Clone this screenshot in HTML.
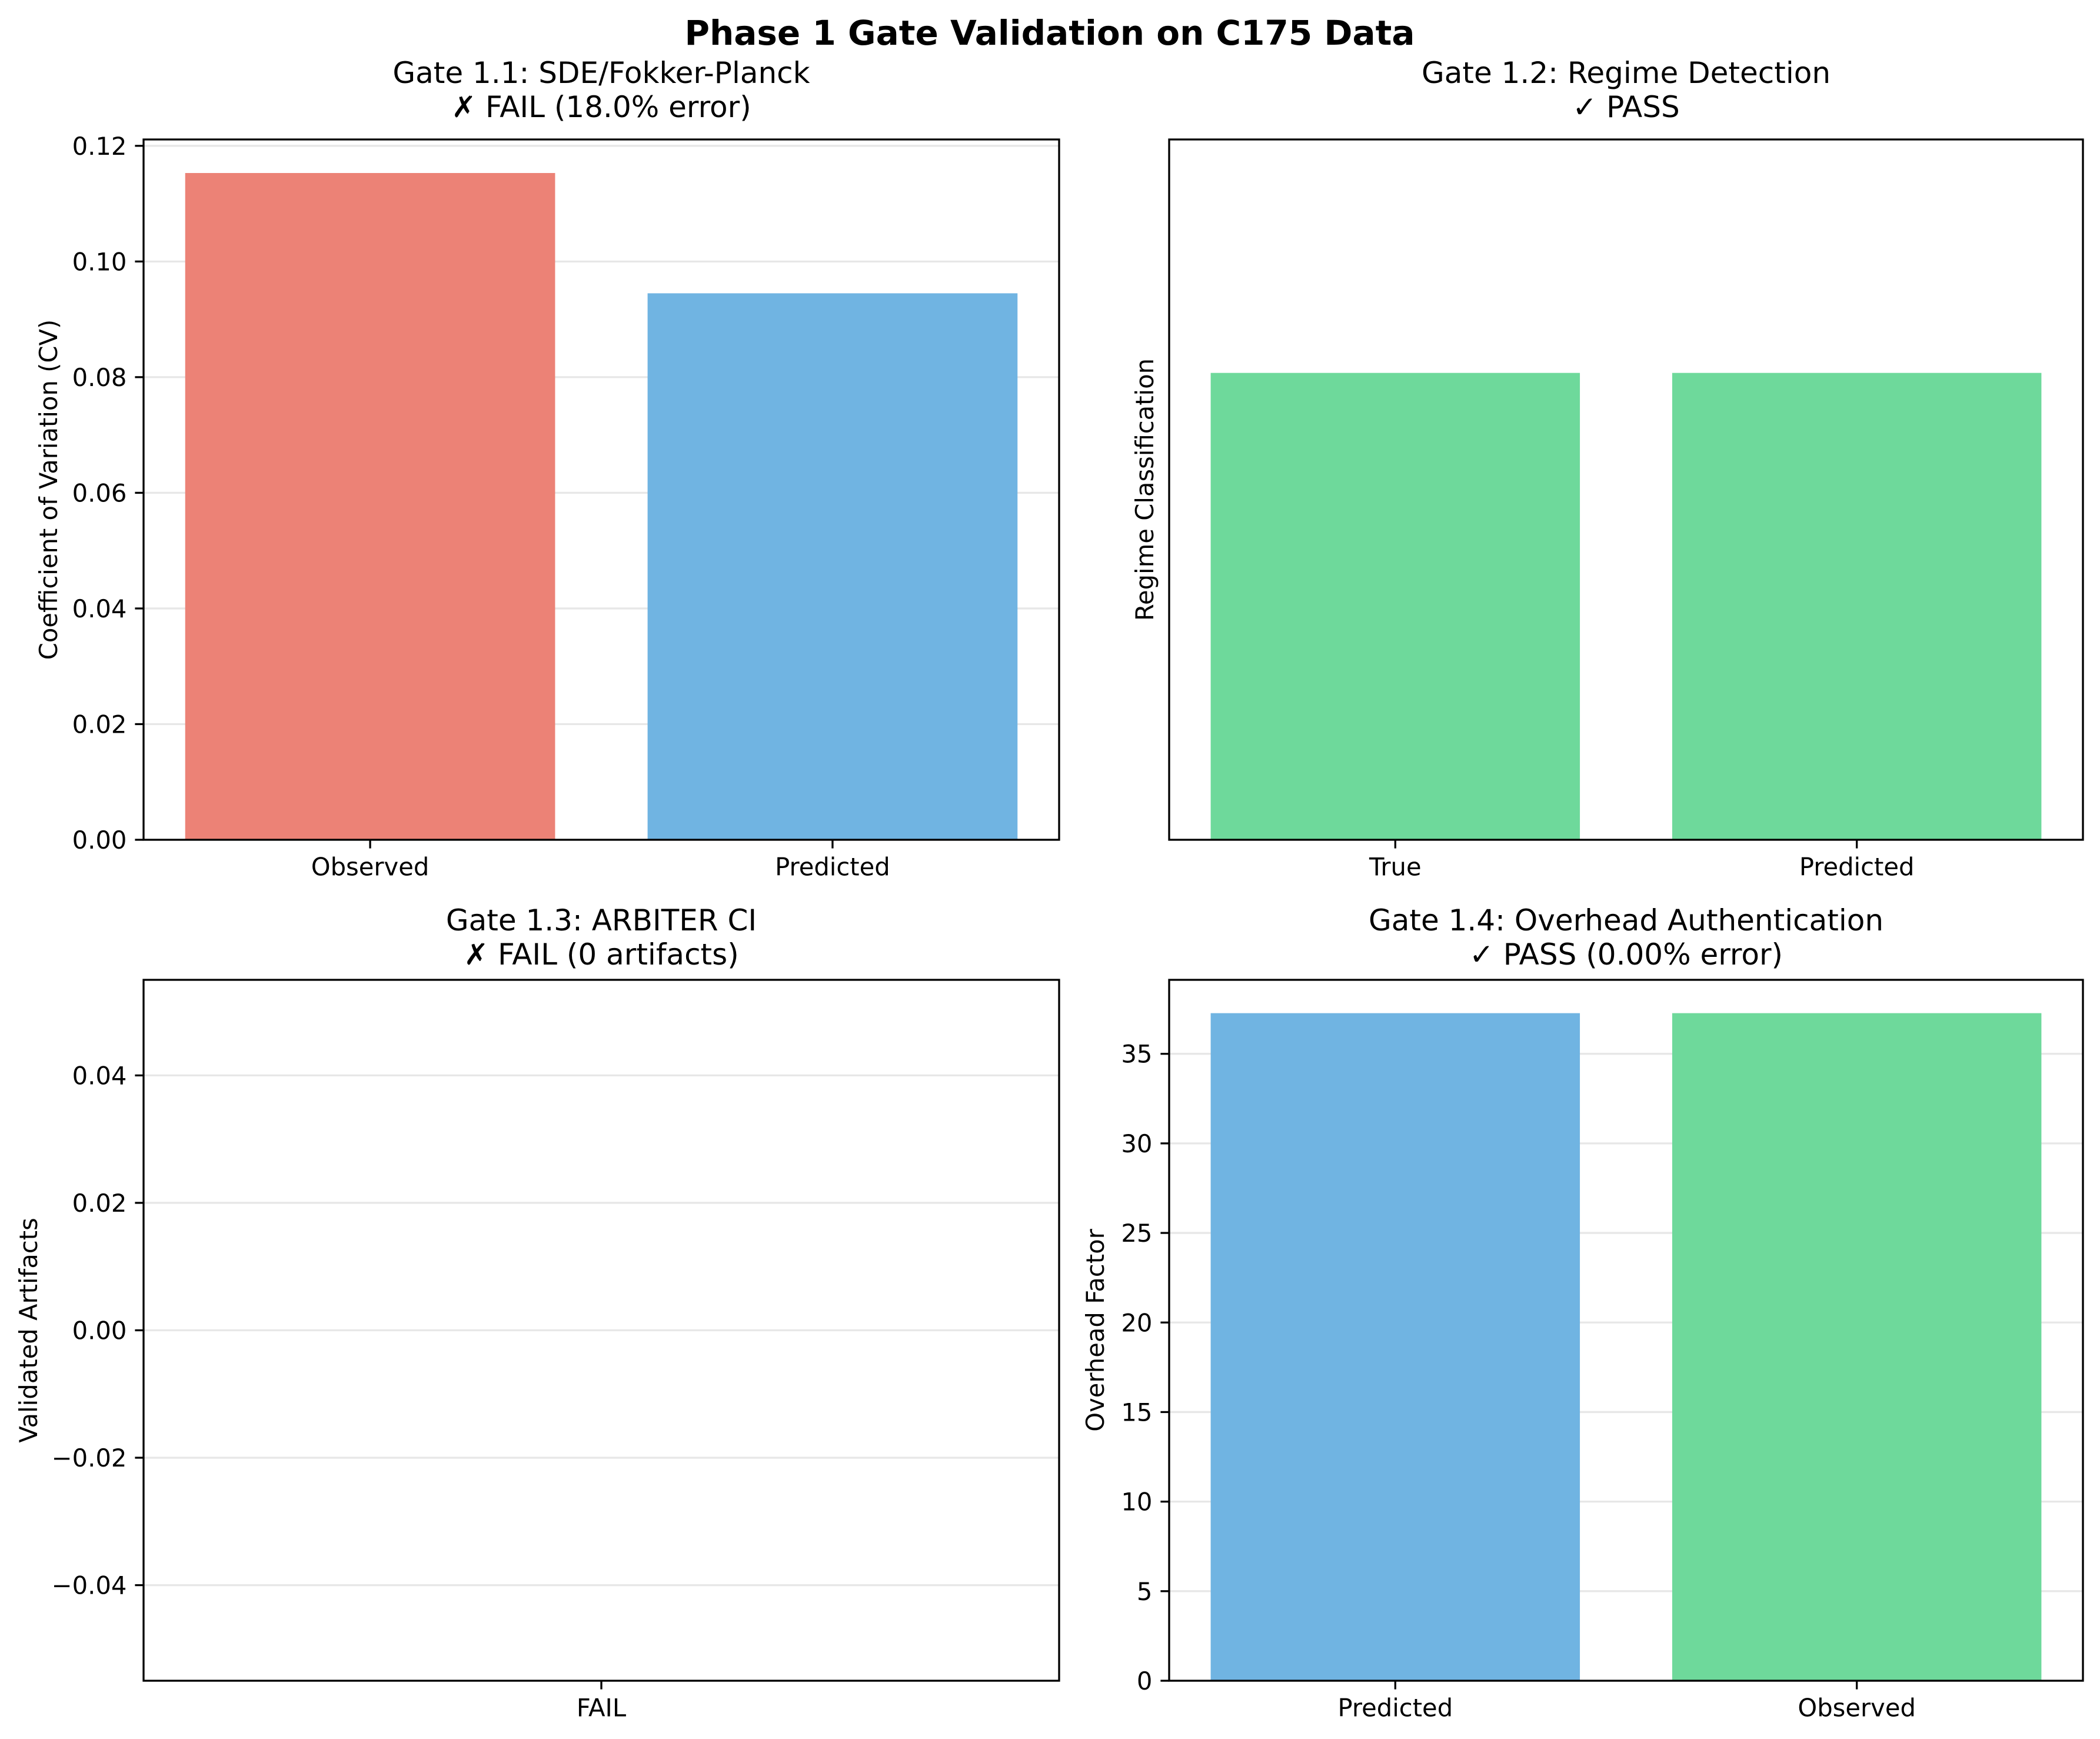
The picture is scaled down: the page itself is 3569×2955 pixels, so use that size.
<!DOCTYPE html>
<html><head><meta charset="utf-8"><style>html,body{margin:0;padding:0;background:#fff}svg{display:block}text{font-family:"DejaVu Sans","Liberation Sans",sans-serif;fill:#000}</style></head>
<body>
<svg id="fig" xmlns="http://www.w3.org/2000/svg" width="3569" height="2955" viewBox="0 0 3569 2955">
<rect width="3569" height="2955" fill="#fff"/>
<text x="1784" y="76" font-size="58" font-weight="bold" text-anchor="middle">Phase 1 Gate Validation on C175 Data</text>
</svg>
<script>
// Panel 1.1 data
const p1Categories = ["Observed", "Predicted"];
const p1Values = [0.1153, 0.0945];
const p1Ticks = [0, 0.02, 0.04, 0.06, 0.08, 0.10, 0.12];
const p1TickLabels = ["0.00", "0.02", "0.04", "0.06", "0.08", "0.10", "0.12"];
// Panel 1.2 data
const p2Categories = ["True", "Predicted"];
const p2Values = [1, 1];
// Panel 1.3 data
const p3Categories = ["FAIL"];
const p3Values = [0];
const p3Ticks = [-0.04, -0.02, 0, 0.02, 0.04];
const p3TickLabels = ["\u22120.04", "\u22120.02", "0.00", "0.02", "0.04"];
// Panel 1.4 data
const p4Categories = ["Predicted", "Observed"];
const p4Values = [37.27, 37.27];
const p4Ticks = [0, 5, 10, 15, 20, 25, 30, 35];
const p4TickLabels = ["0", "5", "10", "15", "20", "25", "30", "35"];

const NS = "http://www.w3.org/2000/svg";
const svg = document.getElementById("fig");
function mk(tag, attrs, parent) {
  const e = document.createElementNS(NS, tag);
  for (const k in attrs) e.setAttribute(k, attrs[k]);
  (parent || svg).appendChild(e);
  return e;
}
const TICK = 14.6, LW = 3.3, FS = 41.7;

function panel(cfg) {
  const g = mk("g", {});
  
  
  const {x0, x1, y0, y1, ymin, ymax} = cfg;
  const n = cfg.cats.length;
  const xlo = -0.4 - 0.05 * (n - 1 + 0.8), xhi = (n - 1) + 0.4 + 0.05 * (n - 1 + 0.8);
  const xs = v => x0 + (v - xlo) / (xhi - xlo) * (x1 - x0);
  const ys = v => y1 - (v - ymin) / (ymax - ymin) * (y1 - y0);
  (cfg.ticks || []).forEach(t => {
    const gl = mk("line", {x1: x0, x2: x1, y1: ys(t), y2: ys(t), stroke: "#b0b0b0", "stroke-opacity": 0.3, "stroke-width": 3.3}, g);
    
    
  });
  cfg.vals.forEach((v, i) => {
    const top = ys(Math.max(v, 0)), bot = ys(Math.min(v, 0));
    const r = mk("rect", {x: xs(i - 0.4), y: top, width: xs(i + 0.4) - xs(i - 0.4), height: Math.max(0, bot - top), fill: cfg.colors[i]}, g);
    
    
  });
  const fr = mk("rect", {x: x0, y: y0, width: x1 - x0, height: y1 - y0, fill: "none", stroke: "#000", "stroke-width": LW}, g);
  
  
  (cfg.ticks || []).forEach((t, i) => {
    mk("line", {x1: x0 - TICK, x2: x0, y1: ys(t), y2: ys(t), stroke: "#000", "stroke-width": LW}, g);
    const tl = mk("text", {x: x0 - TICK - 14, y: ys(t) + 15, "font-size": FS, "text-anchor": "end"}, g);
    tl.textContent = cfg.tickLabels[i];
    
    
  });
  cfg.cats.forEach((c, i) => {
    mk("line", {x1: xs(i), x2: xs(i), y1: y1, y2: y1 + TICK, stroke: "#000", "stroke-width": LW}, g);
    const tl = mk("text", {x: xs(i), y: y1 + TICK + 14 + 32, "font-size": FS, "text-anchor": "middle"}, g);
    tl.textContent = c;
    
    
  });
  const yc = (y0 + y1) / 2;
  const yl = mk("text", {x: cfg.ylx, y: yc, "font-size": FS, "text-anchor": "middle", transform: `rotate(-90 ${cfg.ylx} ${yc})`}, g);
  yl.textContent = cfg.ylabel;
  
  
  const cx = (x0 + x1) / 2;
  const off = cfg.titleShift || 0;
  const t1 = mk("text", {x: cx, y: y0 - 96 + off, "font-size": 50, "text-anchor": "middle"}, g);
  t1.textContent = cfg.title1;
  
  
  const t2 = mk("text", {x: cx, y: y0 - 38 + off, "font-size": 50, "text-anchor": "middle"}, g);
  t2.textContent = cfg.title2;
  
  
}
const RED = "#ec8276", BLUE = "#70b4e2", GREEN = "#6ed99b";
panel({name: "panel-gate-1-1", x0: 244, x1: 1800, y0: 237, y1: 1427, ymin: 0, ymax: 0.1211,
  cats: p1Categories, vals: p1Values, colors: [RED, BLUE], ticks: p1Ticks, tickLabels: p1TickLabels,
  ylabel: "Coefficient of Variation (CV)", ylx: 97, title1: "Gate 1.1: SDE/Fokker-Planck", title2: "\u2717 FAIL (18.0% error)"});
panel({name: "panel-gate-1-2", x0: 1987, x1: 3540, y0: 237, y1: 1427, ymin: 0, ymax: 1.5,
  cats: p2Categories, vals: p2Values, colors: [GREEN, GREEN], ticks: [], tickLabels: [],
  ylabel: "Regime Classification", ylx: 1960, title1: "Gate 1.2: Regime Detection", title2: "\u2713 PASS"});
panel({name: "panel-gate-1-3", x0: 244, x1: 1800, y0: 1665, y1: 2856, ymin: -0.055, ymax: 0.055, titleShift: 12,
  cats: p3Categories, vals: p3Values, colors: [RED], ticks: p3Ticks, tickLabels: p3TickLabels,
  ylabel: "Validated Artifacts", ylx: 63, title1: "Gate 1.3: ARBITER CI", title2: "\u2717 FAIL (0 artifacts)"});
panel({name: "panel-gate-1-4", x0: 1987, x1: 3540, y0: 1665, y1: 2856, ymin: 0, ymax: 39.13, titleShift: 12,
  cats: p4Categories, vals: p4Values, colors: [BLUE, GREEN], ticks: p4Ticks, tickLabels: p4TickLabels,
  ylabel: "Overhead Factor", ylx: 1876, title1: "Gate 1.4: Overhead Authentication", title2: "\u2713 PASS (0.00% error)"});
</script>
</body></html>
